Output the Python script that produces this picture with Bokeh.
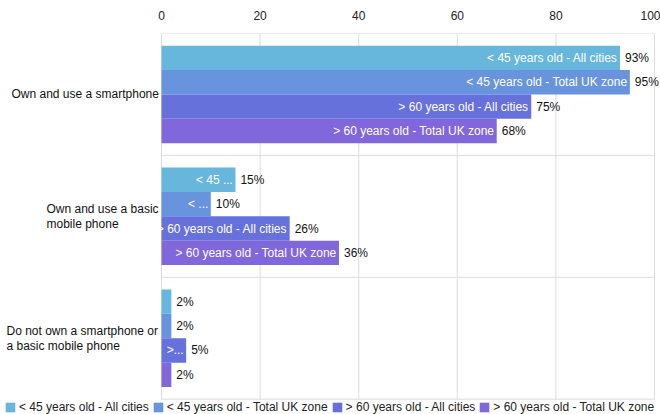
from bokeh.plotting import figure
from bokeh.models import ColumnDataSource, Range1d, FixedTicker, Legend, LegendItem
from bokeh.core.properties import value
from bokeh.embed import file_html
from bokeh.resources import INLINE

# ---- data ----
categories = ["Own and use a smartphone",
              "Own and use a basic mobile phone",
              "Do not own a smartphone or a basic mobile phone"]
category_labels = ["Own and use a smartphone",
                   "Own and use a basic\nmobile phone",
                   "Do not own a smartphone or\na basic mobile phone"]
series = ["< 45 years old - All cities",
          "< 45 years old - Total UK zone",
          "> 60 years old - All cities",
          "> 60 years old - Total UK zone"]
under45_all_cities = [93, 15, 2]
under45_total_uk = [95, 10, 2]
over60_all_cities = [75, 26, 5]
over60_total_uk = [68, 36, 2]
values = [under45_all_cities, under45_total_uk, over60_all_cities, over60_total_uk]
# in-bar labels as displayed (truncated when the bar is short)
inside_labels = [
    ["< 45 years old - All cities", "< 45 ...", ""],
    ["< 45 years old - Total UK zone", "< ...", ""],
    ["> 60 years old - All cities", "> 60 years old - All cities", ">..."],
    ["> 60 years old - Total UK zone", "> 60 years old - Total UK zone", ""],
]
x_ticks = [0, 20, 40, 60, 80, 100]

# ---- layout / style ----
colors = ["#67b7dc", "#6794dc", "#6771dc", "#8067dc"]
offsets = [-0.3, -0.1, 0.1, 0.3]
FONT = "Liberation Sans"
GRID = "#dcdcdc"
PX_PER_UNIT = 4.93          # horizontal scale (px per percent)
LEFT_PX = 161               # pixel position of value 0
label_x_offsets = [-150, -115, -155]

W, H = 660, 414
x_start = -LEFT_PX / PX_PER_UNIT
x_end = 100 + (W - LEFT_PX - 100 * PX_PER_UNIT) / PX_PER_UNIT
y_top = -0.5
y_bottom = -0.5 + (H - 33) / 121.9

p = figure(width=W, height=H, x_range=Range1d(x_start, x_end),
           y_range=Range1d(y_bottom, y_top),
           x_axis_location="above", y_axis_location=None,
           output_backend="svg", toolbar_location=None,
           min_border_left=0, min_border_right=0, min_border_top=33, min_border_bottom=0)
p.background_fill_color = "white"
p.border_fill_color = "white"
p.outline_line_color = None
p.xgrid.visible = False
p.ygrid.visible = False

ax = p.xaxis[0]
ax.ticker = FixedTicker(ticks=x_ticks)
ax.axis_line_color = None
ax.major_tick_line_color = None
ax.minor_tick_line_color = None
ax.major_label_text_font = FONT
ax.major_label_text_font_size = "12px"
ax.major_label_text_color = "#222222"
ax.major_label_standoff = 8

# plot-area grid: vertical lines at ticks, horizontal lines between categories
n = len(categories)
bounds = [i - 0.5 for i in range(n + 1)]
p.segment(x0=x_ticks, x1=x_ticks, y0=[bounds[0]] * len(x_ticks), y1=[bounds[-1]] * len(x_ticks),
          line_color=GRID, line_width=1)
p.segment(x0=[x_ticks[0]] * len(bounds), x1=[x_ticks[-1]] * len(bounds), y0=bounds, y1=bounds,
          line_color=GRID, line_width=1)

bar_renderers = []
for k in range(len(series)):
    src = ColumnDataSource(dict(
        y=[i + offsets[k] for i in range(n)],
        v=values[k],
        inside=inside_labels[k],
        lab=[f"{v}%" for v in values[k]],
    ))
    r = p.hbar(y="y", left=0, right="v", height=0.2, fill_color=colors[k],
               line_color=None, source=src)
    bar_renderers.append(r)
    p.text(x="v", y="y", text="inside", x_offset=-2.5, text_align="right",
           text_baseline="middle", text_color="white", text_font=value(FONT),
           text_font_size="12px", source=src)
    p.text(x="v", y="y", text="lab", x_offset=5, text_align="left",
           text_baseline="middle", text_color="#111111", text_font=value(FONT),
           text_font_size="12px", source=src)

# category labels
cat_src = ColumnDataSource(dict(x=[0] * n, y=list(range(n)), text=category_labels,
                                xo=label_x_offsets))
p.text(x="x", y="y", text="text", x_offset="xo", text_align="left", text_baseline="middle",
       text_color="#111111", text_font=value(FONT), text_font_size="12px",
       text_line_height=1.05, source=cat_src)

legend = Legend(
    items=[LegendItem(label=series[k], renderers=[bar_renderers[k]]) for k in range(len(series))],
    location=(4, 0), orientation="horizontal",
    glyph_width=12, glyph_height=12, label_height=12, label_standoff=3,
    spacing=3, padding=0, margin=0, border_line_color=None,
    background_fill_alpha=0, label_text_font=FONT, label_text_font_size="12px",
    label_text_color="#222222")
p.add_layout(legend)

open("out.html", "w").write(file_html(p, INLINE))
